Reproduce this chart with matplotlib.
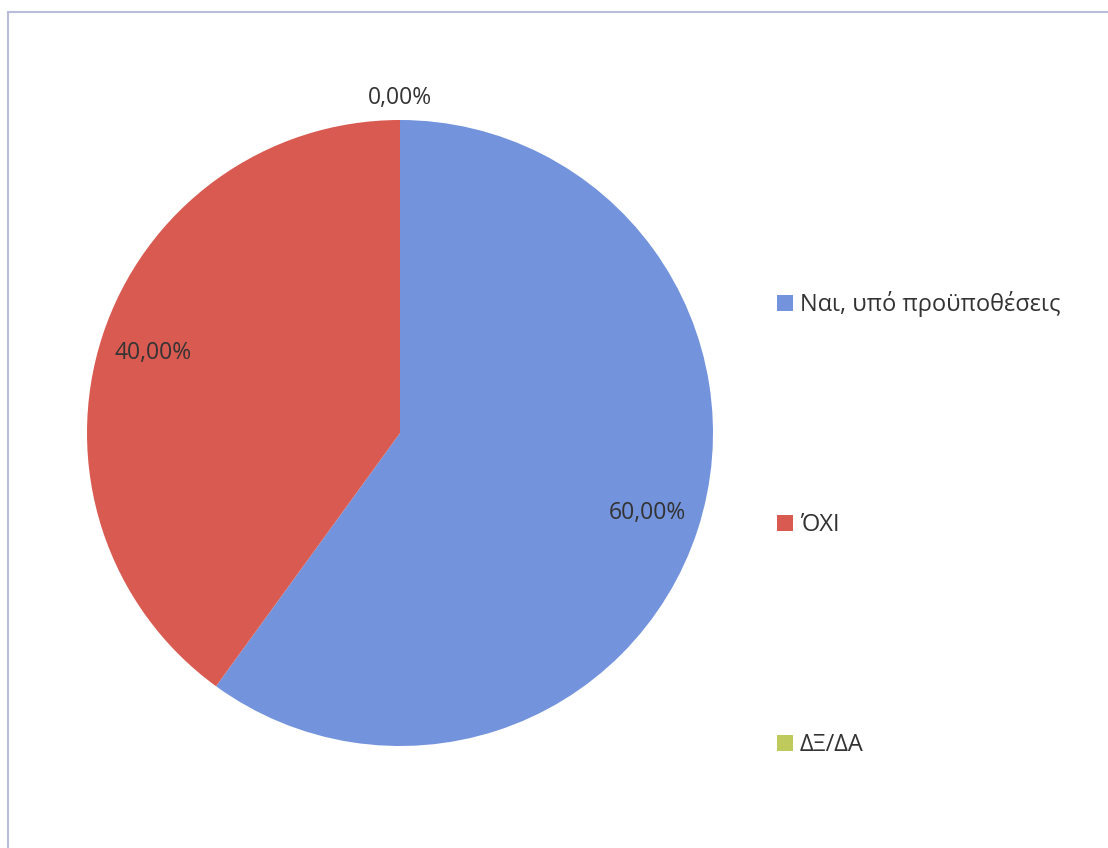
import numpy as np
import matplotlib.pyplot as plt
from matplotlib.patches import Rectangle

labels = ['Ναι, υπό προϋποθέσεις', 'ΌΧΙ', 'ΔΞ/ΔΑ']
values = [60.0, 40.0, 0.0]
colors = ['#7393dc', '#d95a51', '#bfca5c']

plt.rcParams['font.family'] = ['Open Sans', 'DejaVu Sans']

W, H = 1108, 848
fig = plt.figure(figsize=(W / 100, H / 100), dpi=100)
fig.patch.set_facecolor('white')

# chart frame
fig.add_artist(Rectangle((8 / W, -0.01), 1.0, (H - 12) / H + 0.01,
                         transform=fig.transFigure, fill=False,
                         edgecolor='#b9bdd9', linewidth=1.5))

cx, cy, r = 400, 433, 313
ax = fig.add_axes([(cx - r) / W, (H - cy - r) / H, 2 * r / W, 2 * r / H])

fmt = lambda p: f'{p:.2f}%'.replace('.', ',')
wedges, texts, autotexts = ax.pie(values, colors=colors, startangle=90,
                                  counterclock=False, autopct=fmt,
                                  pctdistance=0.83,
                                  textprops=dict(fontsize=16.5, color='#333333'))
ax.set_xlim(-1, 1)
ax.set_ylim(-1, 1)
ax.set_aspect('equal')

# zero slice label sits just outside the pie
for w, v, t in zip(wedges, values, autotexts):
    if v == 0:
        ang = np.deg2rad((w.theta1 + w.theta2) / 2)
        t.set_position((1.07 * np.cos(ang), 1.07 * np.sin(ang)))

fig.legend(wedges, labels, loc='center left',
           bbox_to_anchor=(756 / W, (H - 524) / H), frameon=False,
           fontsize=17, labelspacing=8.3, handlelength=0.65,
           handleheight=0.65, handletextpad=0.3, labelcolor='#333333')

fig.savefig('out.png', dpi=100)
